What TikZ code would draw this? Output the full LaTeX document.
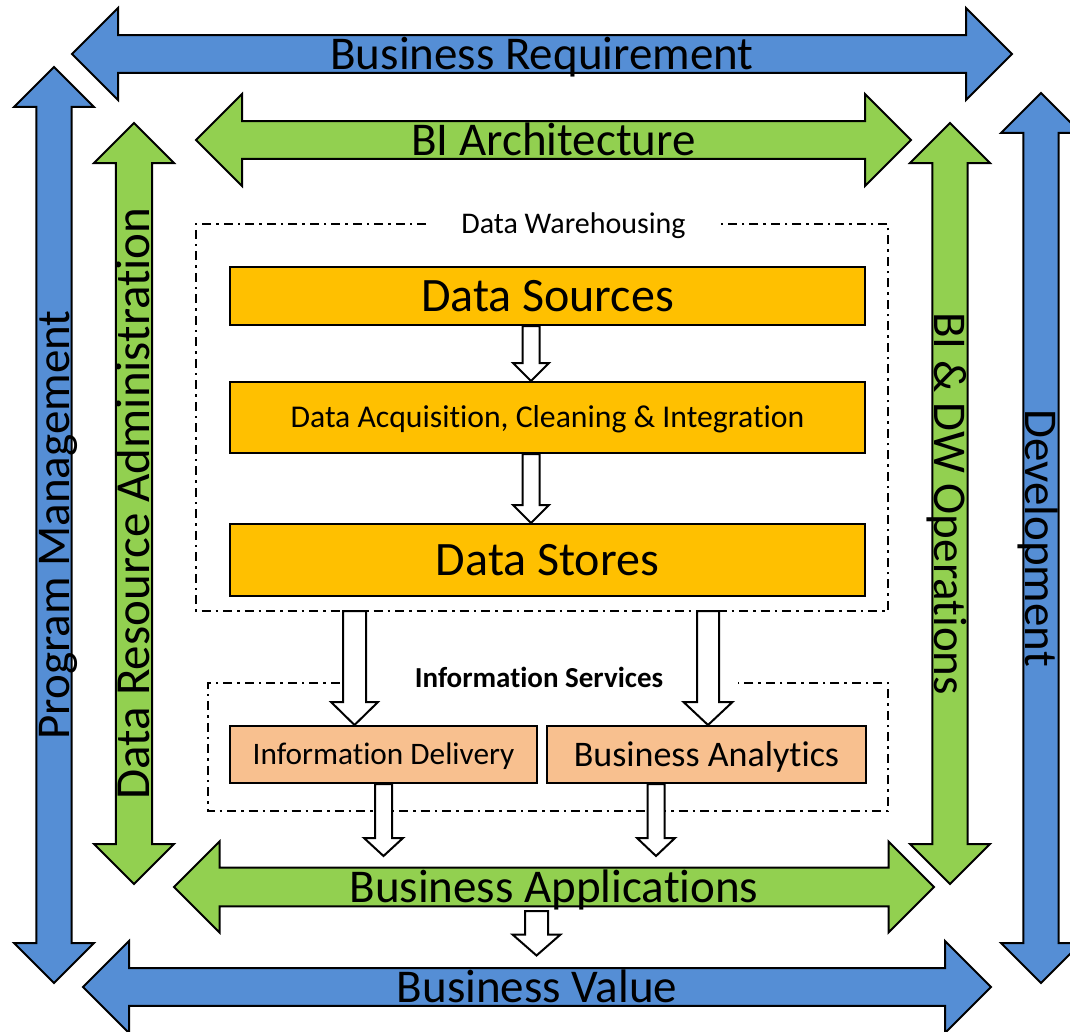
\documentclass[tikz,border=0pt]{standalone}
\usepackage{fontspec}
\setmainfont{Carlito}[Ligatures=NoCommon]
\usetikzlibrary{shapes.arrows,calc}
\definecolor{barrow}{HTML}{558ED5}
\definecolor{garrow}{HTML}{92D050}
\definecolor{ybox}{HTML}{FFC000}
\definecolor{pbox}{HTML}{F8C08F}
\newcommand\fs[1]{\fontsize{#1}{#1}\selectfont}
\newcommand\hollowarr[5]{%
  \draw[holw] ($(#1)+(-#3,0)$) -- ($(#2)+(-#3,-#5)$) -- ($(#2)+(-#4,-#5)$) -- (#2)
    -- ($(#2)+(#4,-#5)$) -- ($(#2)+(#3,-#5)$) -- ($(#1)+(#3,0)$) -- cycle;}
\begin{document}
\begin{tikzpicture}[x=1pt,y=-1pt,
  ba/.style={double arrow, draw=black, line width=2pt, inner sep=0pt,
    text height=#1, text depth=0pt, double arrow tip angle=90},
  boxs/.style={draw=black, line width=2pt, inner sep=0pt, text depth=0pt},
  holw/.style={draw=black, fill=white, line width=2pt, line join=miter},
  dd/.style={draw=black, line width=1.5pt, dash pattern=on 9pt off 5pt on 2.5pt off 5pt},
  frame/.style={inner sep=0pt, draw=none}
]
\clip (0,0) rectangle (1070,1032);
\fill[white] (0,0) rectangle (1070,1032);

% dashed frames
\node[frame, minimum width=692pt, minimum height=387pt] (dw) at (542,417.5) {};
\node[frame, minimum width=680pt, minimum height=128pt] (is) at (548,747) {};
\node[font=\fs{30}, inner xsep=35pt, inner ysep=0pt, anchor=base] (dwl) at (573.5,234) {Data Warehousing};
\node[font=\bfseries\fs{29}, inner xsep=75pt, inner ysep=0pt, anchor=base] (isl) at (539,687) {Information Services};
\draw[dd] (dwl.west |- dw.north) -- (dw.north west) -- (dw.south west) -- (dw.south east)
  -- (dw.north east) -- (dwl.east |- dw.north);
\draw[dd] (isl.west |- is.north) -- (is.north west) -- (is.south west) -- (is.south east)
  -- (is.north east) -- (isl.east |- is.north);

% boxes
\node[boxs, fill=ybox, font=\fs{48}, text height=30.9pt, minimum width=635pt, minimum height=58pt] (ds) at (547.5,296) {Data Sources};
\node[boxs, fill=ybox, font=\fs{31.7}, text height=20.4pt, minimum width=635pt, minimum height=71pt] (daq) at (547.5,417.5) {Data Acquisition, Cleaning \& Integration};
\node[boxs, fill=ybox, font=\fs{48}, text height=30.9pt, minimum width=635pt, minimum height=72pt] (dst) at (547.5,560) {Data Stores};
\node[boxs, fill=pbox, font=\fs{31.3}, text height=20.2pt, minimum width=307pt, minimum height=57pt] (idel) at (383.5,754.5) {Information Delivery};
\node[boxs, fill=pbox, font=\fs{36}, text height=23.2pt, minimum width=319pt, minimum height=57pt] (ban) at (706.5,754.5) {Business Analytics};

% big arrows
\node[ba=30.3pt, fill=barrow, font=\fs{47}, minimum height=940pt, minimum width=92pt, double arrow head extend=23pt] (breq) at (542,54) {Business Requirement};
\node[ba=30.3pt, fill=garrow, font=\fs{47}, minimum height=715pt, minimum width=92pt, double arrow head extend=23pt] (biarch) at (553.5,140) {BI Architecture};
\node[ba=30.3pt, fill=garrow, font=\fs{47}, minimum height=760pt, minimum width=91pt, double arrow head extend=22pt] (bapp) at (554,887) {Business Applications};
\node[ba=30.3pt, fill=barrow, font=\fs{47}, minimum height=908pt, minimum width=92pt, double arrow head extend=23pt] (bval) at (537,987) {Business Value};
\node[ba=30.3pt, fill=barrow, font=\fs{47}, rotate=90, minimum height=916pt, minimum width=80pt, double arrow head extend=20.5pt] (pm) at (54,525) {Program Management};
\node[ba=31.6pt, fill=garrow, font=\fs{49}, rotate=90, minimum height=761pt, minimum width=80pt, double arrow head extend=20.5pt] (dra) at (134,503.5) {Data Resource Administration};
\node[ba=30.3pt, fill=garrow, font=\fs{47}, rotate=-90, minimum height=761pt, minimum width=80pt, double arrow head extend=20.5pt] (bidw) at (950,503.5) {BI \& DW Operations};
\node[ba=30.3pt, fill=barrow, font=\fs{47}, rotate=-90, minimum height=890pt, minimum width=80pt, double arrow head extend=20.5pt] (dev) at (1041,538) {Development};

% hollow connectors
\coordinate (a1s) at ($(ds.south)+(-16.5,0)$);
\coordinate (a1t) at ($(daq.north)+(-16.5,0)$);
\hollowarr{a1s}{a1t}{8.5}{18}{18}
\coordinate (a2s) at ($(daq.south)+(-16.5,0)$);
\coordinate (a2t) at ($(dst.north)+(-16.5,0)$);
\hollowarr{a2s}{a2t}{8.5}{18}{18}
\coordinate (a3t) at ($(idel.north)+(-29,0)$);
\coordinate (a3s) at (a3t |- dw.south);
\hollowarr{a3s}{a3t}{11.5}{23.5}{23}
\coordinate (a4t) at ($(ban.north)+(1.5,0)$);
\coordinate (a4s) at (a4t |- dw.south);
\hollowarr{a4s}{a4t}{11}{24.5}{23}
\coordinate (a5s) at (idel.south);
\coordinate (a5t) at ($(idel.south)+(0,72)$);
\hollowarr{a5s}{a5t}{8.5}{19.5}{18}
\coordinate (a6s) at ($(ban.south)+(-50.5,0)$);
\coordinate (a6t) at ($(a6s)+(0,72)$);
\hollowarr{a6s}{a6t}{8.5}{19}{18}
\coordinate (a7s) at ($(bapp.center)+(-17.5,24)$);
\coordinate (a7t) at ($(a7s)+(0,44.5)$);
\hollowarr{a7s}{a7t}{11.5}{24}{21}
\end{tikzpicture}
\end{document}
